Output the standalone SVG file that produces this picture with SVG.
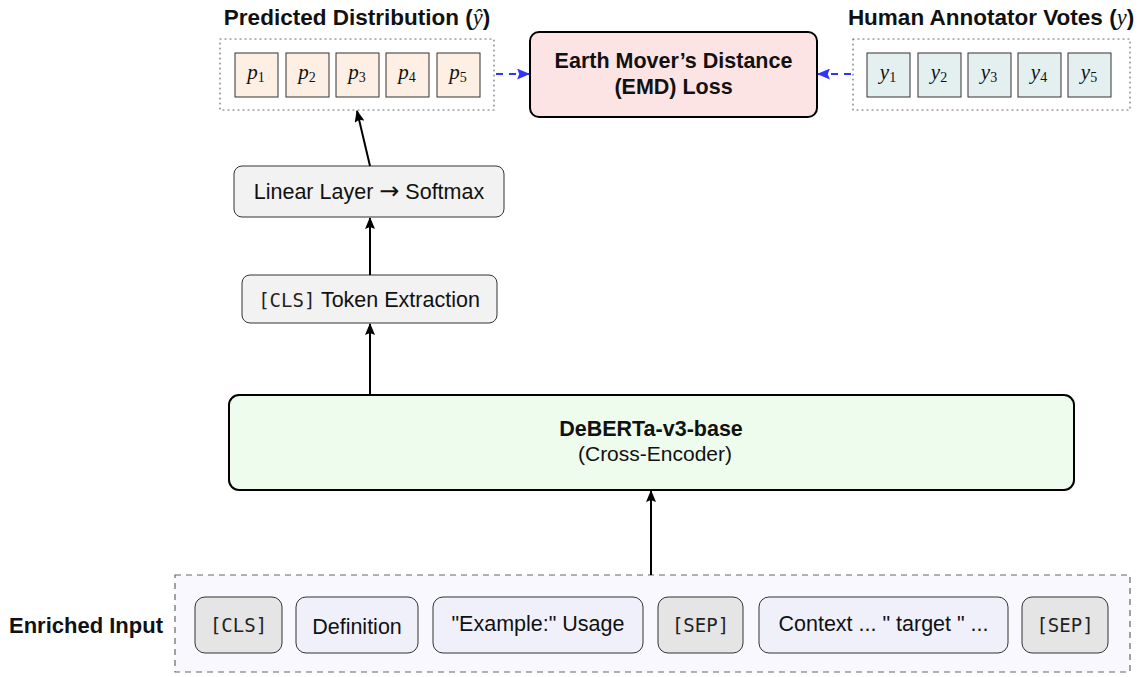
<svg xmlns="http://www.w3.org/2000/svg" width="1139" height="677" viewBox="0 0 1139 677">
  <defs>
    <marker id="arrBlack" viewBox="0 0 12 10" refX="11" refY="5" markerWidth="12" markerHeight="10" markerUnits="userSpaceOnUse" orient="auto">
      <path d="M0,0 L12,5 L0,10 L2,5 Z" fill="#000"/>
    </marker>
    <marker id="arrBlue" viewBox="0 0 12 10" refX="11" refY="5" markerWidth="13" markerHeight="11" markerUnits="userSpaceOnUse" orient="auto">
      <path d="M0,0 L12,5 L0,10 L2,5 Z" fill="#3333ff"/>
    </marker>
    <style>
      .sans { font-family: "Liberation Sans", Arial, sans-serif; fill: #111; }
      .bold { font-weight: bold; }
      .mono { font-family: "DejaVu Sans Mono", monospace; fill: #222; }
      .math { font-family: "Liberation Serif", "DejaVu Serif", serif; font-style: italic; fill: #111; }
      .sub { font-family: "Liberation Serif", serif; font-style: normal; font-size: 14px; }
      .cellP { fill: #fdefe3; stroke: #333; stroke-width: 1; }
      .cellY { fill: #e3f0ef; stroke: #333; stroke-width: 1; }
      .group { fill: none; stroke: #666; stroke-width: 1.2; stroke-dasharray: 1 4; stroke-linecap: round; }
      .step { fill: #f2f2f2; stroke: #333; stroke-width: 1; }
      .tokGray { fill: #e5e5e5; stroke: #333; stroke-width: 1; }
      .tokBlue { fill: #f0f0fb; stroke: #333; stroke-width: 1; }
      .edge { fill: none; stroke: #000; stroke-width: 2; }
      .loss { fill: none; stroke: #3333ff; stroke-width: 2; stroke-dasharray: 7 6; }
    </style>
  </defs>

  <rect width="1139" height="677" fill="#fff"/>

  <!-- predicted distribution -->
  <g id="predicted">
    <text class="sans bold" x="357" y="25" font-size="22.5" text-anchor="middle">Predicted Distribution (<tspan class="math" font-weight="normal">ŷ</tspan>)</text>
    <rect class="group" x="220" y="39" width="274" height="71"/>
    <rect class="cellP" x="235" y="53" width="43" height="44"/>
    <rect class="cellP" x="286" y="53" width="43" height="44"/>
    <rect class="cellP" x="336" y="53" width="43" height="44"/>
    <rect class="cellP" x="386" y="53" width="43" height="44"/>
    <rect class="cellP" x="437" y="53" width="43" height="44"/>
    <g class="math" font-size="21" text-anchor="middle">
      <text x="256" y="79">p<tspan class="sub" dy="3">1</tspan></text>
      <text x="307" y="79">p<tspan class="sub" dy="3">2</tspan></text>
      <text x="357" y="79">p<tspan class="sub" dy="3">3</tspan></text>
      <text x="407" y="79">p<tspan class="sub" dy="3">4</tspan></text>
      <text x="458" y="79">p<tspan class="sub" dy="3">5</tspan></text>
    </g>
  </g>

  <!-- loss -->
  <g id="emd">
    <rect x="530" y="32" width="287" height="85" rx="9" fill="#fde4e4" stroke="#000" stroke-width="2"/>
    <text class="sans bold" x="673.5" y="68" font-size="21.5" text-anchor="middle">Earth Mover’s Distance</text>
    <text class="sans bold" x="673.5" y="94" font-size="21.5" text-anchor="middle">(EMD) Loss</text>
  </g>

  <!-- human votes -->
  <g id="votes">
    <text class="sans bold" x="991" y="25" font-size="22.5" text-anchor="middle">Human Annotator Votes (<tspan class="math" font-weight="normal">y</tspan>)</text>
    <rect class="group" x="853" y="39" width="277" height="71"/>
    <rect class="cellY" x="867" y="53" width="43" height="44"/>
    <rect class="cellY" x="918" y="53" width="43" height="44"/>
    <rect class="cellY" x="968" y="53" width="43" height="44"/>
    <rect class="cellY" x="1018" y="53" width="43" height="44"/>
    <rect class="cellY" x="1068" y="53" width="43" height="44"/>
    <g class="math" font-size="21" text-anchor="middle">
      <text x="888" y="79">y<tspan class="sub" dy="3">1</tspan></text>
      <text x="939" y="79">y<tspan class="sub" dy="3">2</tspan></text>
      <text x="989" y="79">y<tspan class="sub" dy="3">3</tspan></text>
      <text x="1039" y="79">y<tspan class="sub" dy="3">4</tspan></text>
      <text x="1089" y="79">y<tspan class="sub" dy="3">5</tspan></text>
    </g>
  </g>

  <!-- head -->
  <g id="linear">
    <rect class="step" x="234" y="166" width="270" height="51" rx="8"/>
    <text class="sans" x="369" y="199" font-size="21.5" text-anchor="middle">Linear Layer <tspan font-family="DejaVu Sans" font-size="24">→</tspan> Softmax</text>
  </g>

  <g id="cls-extract">
    <rect class="step" x="242" y="275" width="255" height="48" rx="8"/>
    <text class="sans" x="369" y="307" font-size="21.5" text-anchor="middle"><tspan class="mono" font-size="19">[CLS]</tspan> Token Extraction</text>
  </g>

  <!-- encoder -->
  <g id="encoder">
    <rect x="229" y="395" width="845" height="95" rx="10" fill="#eefcee" stroke="#000" stroke-width="2"/>
    <text class="sans bold" x="651" y="436" font-size="21.5" text-anchor="middle">DeBERTa-v3-base</text>
    <text class="sans" x="655" y="461" font-size="21" text-anchor="middle">(Cross-Encoder)</text>
  </g>

  <!-- input sequence -->
  <g id="input">
    <rect x="175" y="575" width="955" height="97" fill="#f8f8fe" stroke="#666" stroke-width="1.2" stroke-dasharray="6 5"/>
    <text class="sans bold" x="163" y="633" font-size="22" text-anchor="end">Enriched Input</text>
    <rect class="tokGray" x="195" y="597" width="87" height="56" rx="10"/>
    <text class="mono" x="238.5" y="632" font-size="19" text-anchor="middle">[CLS]</text>
    <rect class="tokBlue" x="296" y="597" width="122" height="56" rx="10"/>
    <text class="sans" x="357" y="634" font-size="21.5" text-anchor="middle">Definition</text>
    <rect class="tokBlue" x="433" y="597" width="210" height="56" rx="10"/>
    <text class="sans" x="538" y="631" font-size="21.5" text-anchor="middle">"Example:" Usage</text>
    <rect class="tokGray" x="658" y="597" width="85" height="56" rx="10"/>
    <text class="mono" x="700.5" y="632" font-size="19" text-anchor="middle">[SEP]</text>
    <rect class="tokBlue" x="759" y="597" width="249" height="56" rx="10"/>
    <text class="sans" x="883.5" y="631" font-size="21.5" text-anchor="middle">Context ... " target " ...</text>
    <rect class="tokGray" x="1022" y="597" width="86" height="56" rx="10"/>
    <text class="mono" x="1065" y="632" font-size="19" text-anchor="middle">[SEP]</text>
  </g>

  <!-- connectors -->
  <g id="connectors">
    <line class="edge" x1="651" y1="575" x2="651" y2="491" marker-end="url(#arrBlack)"/>
    <line class="edge" x1="370" y1="395" x2="370" y2="324" marker-end="url(#arrBlack)"/>
    <line class="edge" x1="370" y1="275" x2="370" y2="218" marker-end="url(#arrBlack)"/>
    <line class="edge" x1="370" y1="166" x2="357" y2="111" marker-end="url(#arrBlack)"/>
    <line class="loss" x1="496" y1="74" x2="529" y2="74" marker-end="url(#arrBlue)"/>
    <line class="loss" x1="851" y1="74" x2="818" y2="74" marker-end="url(#arrBlue)"/>
  </g>
</svg>
